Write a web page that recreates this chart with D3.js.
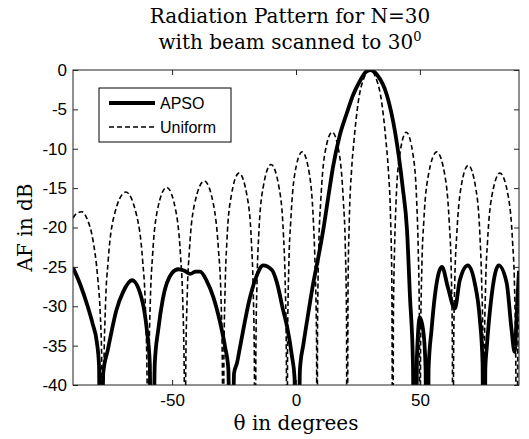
<!DOCTYPE html>
<html>
<head>
<meta charset="utf-8">
<script src="https://cdn.jsdelivr.net/npm/d3@7"></script>
<style>
html,body{margin:0;padding:0;background:#fff;}
svg{display:block;}
</style>
</head>
<body>
<script>
// ---------- data ----------
const xTicks = [-50, 0, 50];
const yTicks = [0, -5, -10, -15, -20, -25, -30, -35, -40];
const seriesNames = ["APSO", "Uniform"];

const apsoTheta = [-90,-87,-84,-82,-80.4,-79.5,-78.8,-77.8,-76,-74.3,-72.5,-69.8,-66.2,-62.3,-60.2,-59,-58.2,
  -57,-55.6,-53.7,-50.1,-47.5,-45,-42.7,-40.5,-38.7,-36,-33.4,-30.6,-28.6,-27.3,-26.2,
  -25,-23.8,-22.6,-18.5,-15.7,-13.3,-9.7,-7.7,-5.2,-3.6,-1.6,-0.6,0.4,
  1.6,3,5,7,9,11,13,15,17.5,20.6,23,25.8,28,30,32.7,36.7,40,43.1,44.8,46,47.2,48,
  48.8,50,51.5,52.3,52.8,53.5,54.7,56,58.9,61.3,64.1,66.1,69.4,72.1,74.2,75.3,75.8,
  76.4,77,78.9,81.8,85,87,88.2,89.4,90];
const apsoDb = [-25.1,-27.3,-30.1,-32.3,-34.5,-37.5,-70,-38.5,-35.6,-33,-30.5,-28.2,-26.7,-29,-33,-37.3,-70,
  -37.3,-33,-29,-25.8,-25.3,-25.5,-25.9,-25.6,-25.6,-26.8,-28.8,-32.1,-35.2,-38,-70,
  -38.5,-37.2,-35.2,-28.8,-26,-24.8,-25.4,-27,-30.5,-32.6,-36.4,-39,-70,
  -38,-34.8,-30.8,-27,-23.8,-20.3,-16.2,-12.2,-8.5,-5.4,-3.2,-1.4,-0.3,0,-0.6,-3.2,-7.9,-15,-20.3,-28.8,-37.2,-70,
  -36.5,-31.4,-33.5,-38,-70,-38,-33,-28.8,-25,-27.6,-30.3,-26.7,-24.8,-27,-31.7,-37.2,-70,
  -38,-35.2,-28.8,-24.8,-27,-33,-35.8,-28.8,-25.5];

const uniTheta = [-90,-88.5,-86.4,-84.2,-82,-80,-79,-78.4,-78,
  -77.6,-76.9,-75.8,-73.4,-68.7,-64.3,-61.9,-60.8,-60.1,-59.7,
  -59.4,-58.8,-57.9,-56.0,-52.2,-48.5,-46.6,-45.7,-45.1,-44.8,
  -44.5,-43.9,-43.0,-41.0,-37.0,-33.3,-31.3,-30.3,-29.7,-29.4,
  -29.1,-28.6,-27.9,-26.2,-23.0,-19.7,-18.0,-17.3,-16.8,-16.5,
  -16.2,-15.7,-15.0,-13.3,-10.1,-6.8,-5.1,-4.4,-3.9,-3.6,
  -3.4,-2.9,-2.1,-0.6,2.5,5.5,7.0,7.7,8.3,8.5,
  8.7,9.2,10.0,11.5,14.6,17.6,19.1,19.9,20.4,20.6,
  21.0,21.5,22.45,23.4,25.2,27.1,29.85,32.6,34.5,36.3,37.25,38.2,38.7,39.1,
  39.3,39.8,40.4,41.8,44.5,47.3,48.7,49.3,49.8,50,
  50.3,50.8,51.6,53.4,56.8,60.1,61.8,62.6,63.1,63.4,
  63.6,64.1,64.9,66.5,69.5,72.6,74.2,74.9,75.5,75.7,
  76.0,76.5,77.3,79.0,82.3,85.7,87.4,88.2,88.7,89.1,89.5,90];
const uniDb = [-18.8,-18.2,-18.0,-19.0,-21.5,-26.5,-31,-37,-70,
  -39.5,-30,-24.2,-18.5,-15.5,-18.5,-24.2,-30,-39.5,-70,
  -38.9,-29.4,-23.6,-17.9,-14.9,-17.9,-23.6,-29.4,-38.9,-70,
  -38.1,-28.6,-22.8,-17.1,-14.1,-17.1,-22.8,-28.6,-38.1,-70,
  -37.1,-27.6,-21.8,-16.1,-13.1,-16.1,-21.8,-27.6,-37.1,-70,
  -36,-26.5,-20.7,-15,-12,-15,-20.7,-26.5,-36,-70,
  -34.4,-24.9,-19.1,-13.4,-10.4,-13.4,-19.1,-24.9,-34.4,-70,
  -31.9,-22.4,-16.6,-10.9,-7.9,-10.9,-16.6,-22.4,-31.9,-70,
  -27.6,-19.2,-12.6,-9.0,-3.9,-1.3,0,-1.3,-3.9,-9.0,-12.6,-19.2,-27.6,-70,
  -31.9,-22.4,-16.6,-10.9,-7.9,-10.9,-16.6,-22.4,-31.9,-70,
  -34.4,-24.9,-19.1,-13.4,-10.4,-13.4,-19.1,-24.9,-34.4,-70,
  -36.1,-26.6,-20.8,-15.1,-12.1,-15.1,-20.8,-26.6,-36.1,-70,
  -37.1,-27.6,-21.8,-16.1,-13.1,-16.1,-21.8,-27.6,-37.1,-70,-36,-30];

// ---------- layout ----------
const W = 529, H = 439;
const L = 73, R = 519, T = 70, B = 385;
const serif = "'DejaVu Serif', serif";
const sans = "'Liberation Sans', Arial, sans-serif";

const svg = d3.select("body").append("svg").attr("width", W).attr("height", H);

const x = d3.scaleLinear().domain([-90, 90]).range([L, R]);
const y = d3.scaleLinear().domain([-40, 0]).range([B, T]);

svg.append("defs").append("clipPath").attr("id", "clip")
  .append("rect").attr("x", L).attr("y", T).attr("width", R - L).attr("height", B - T);

const line = d3.line().x(d => x(d[0])).y(d => y(d[1])).curve(d3.curveMonotoneX);

const apso = apsoTheta.map((t, i) => [t, apsoDb[i]]);
const uni = uniTheta.map((t, i) => [t, uniDb[i]]);

const g = svg.append("g").attr("clip-path", "url(#clip)");
g.append("path").datum(apso).attr("d", line)
  .attr("fill", "none").attr("stroke", "#000").attr("stroke-width", 3.8).attr("stroke-linejoin", "round");
g.append("path").datum(uni).attr("d", line)
  .attr("fill", "none").attr("stroke", "#000").attr("stroke-width", 1.6).attr("stroke-dasharray", "5,3");

// ---------- axes ----------
const fmt = d => String(d);
function styleAxis(sel, showLabels) {
  sel.select(".domain").remove();
  sel.selectAll(".tick line").attr("stroke", "#222");
  sel.selectAll(".tick text").attr("fill", "#000").attr("font-family", sans).attr("font-size", 17);
  if (!showLabels) sel.selectAll(".tick text").remove();
}
svg.append("g").attr("transform", `translate(0,${B})`)
  .call(d3.axisBottom(x).tickValues(xTicks).tickFormat(fmt).tickSizeInner(-5).tickSizeOuter(0).tickPadding(9))
  .call(s => styleAxis(s, true));
svg.append("g").attr("transform", `translate(0,${T})`)
  .call(d3.axisTop(x).tickValues(xTicks).tickSizeInner(-5).tickSizeOuter(0))
  .call(s => styleAxis(s, false));
svg.append("g").attr("transform", `translate(${L},0)`)
  .call(d3.axisLeft(y).tickValues(yTicks).tickFormat(fmt).tickSizeInner(-5).tickSizeOuter(0).tickPadding(6))
  .call(s => styleAxis(s, true));
svg.append("g").attr("transform", `translate(${R},0)`)
  .call(d3.axisRight(y).tickValues(yTicks).tickSizeInner(-5).tickSizeOuter(0))
  .call(s => styleAxis(s, false));

svg.append("rect").attr("x", L).attr("y", T).attr("width", R - L).attr("height", B - T)
  .attr("fill", "none").attr("stroke", "#222").attr("stroke-width", 1);

// ---------- titles ----------
svg.append("text").attr("x", 290).attr("y", 23).attr("text-anchor", "middle")
  .attr("font-family", serif).attr("font-size", 20).text("Radiation Pattern for N=30");
const t2 = svg.append("text").attr("x", 290).attr("y", 49).attr("text-anchor", "middle")
  .attr("font-family", serif).attr("font-size", 20);
t2.append("tspan").text("with beam scanned to 30");
t2.append("tspan").attr("dy", -8).attr("font-size", 13).text("0");

svg.append("text").attr("x", 296).attr("y", 430).attr("text-anchor", "middle")
  .attr("font-family", serif).attr("font-size", 20).text("θ in degrees");
svg.append("text").attr("transform", `translate(32,${(T + B) / 2}) rotate(-90)`).attr("text-anchor", "middle")
  .attr("font-family", serif).attr("font-size", 20).text("AF in dB");

// ---------- legend ----------
const lg = svg.append("g");
lg.append("rect").attr("x", 99).attr("y", 88).attr("width", 132).attr("height", 54)
  .attr("fill", "#fff").attr("stroke", "#000").attr("stroke-width", 1);
const legY = [103, 127];
lg.append("line").attr("x1", 109).attr("x2", 155).attr("y1", legY[0]).attr("y2", legY[0])
  .attr("stroke", "#000").attr("stroke-width", 3.8);
lg.append("line").attr("x1", 109).attr("x2", 155).attr("y1", legY[1]).attr("y2", legY[1])
  .attr("stroke", "#000").attr("stroke-width", 1.6).attr("stroke-dasharray", "5,3");
seriesNames.forEach((n, i) => {
  lg.append("text").attr("x", 160).attr("y", legY[i]).attr("dy", "0.35em")
    .attr("font-family", sans).attr("font-size", 16).text(n);
});
</script>
</body>
</html>
